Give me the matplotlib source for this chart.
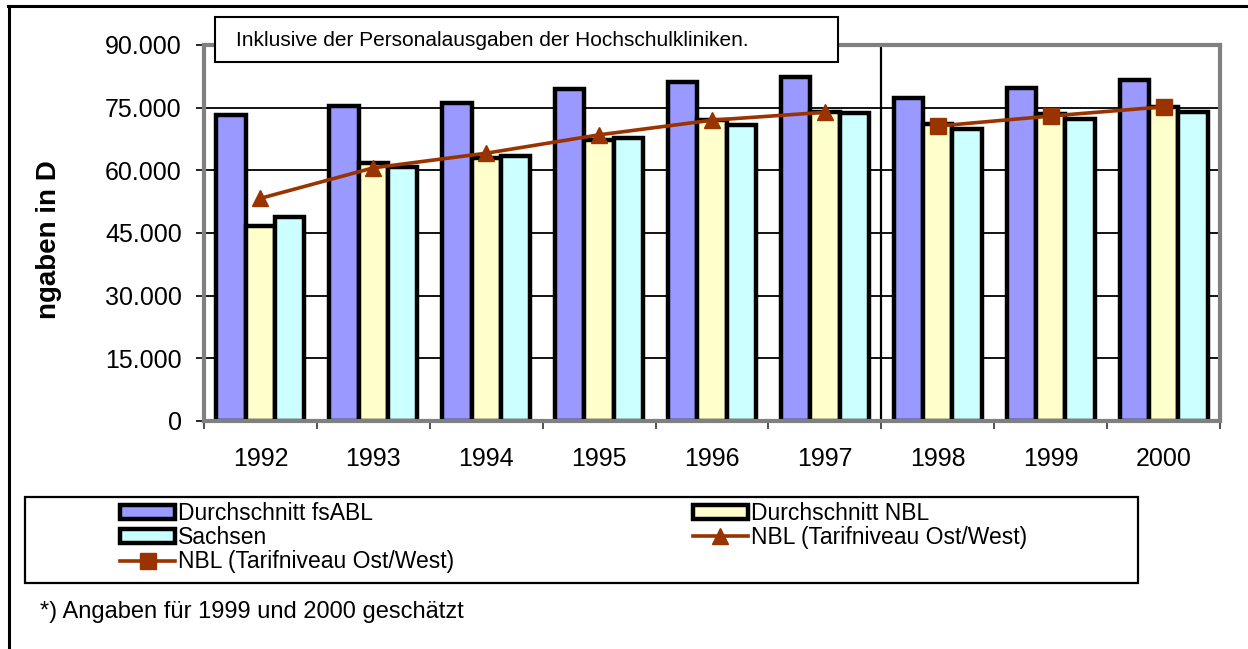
import numpy as np
import matplotlib
matplotlib.use("Agg")
from matplotlib import pyplot as plt
from matplotlib.patches import Rectangle
from matplotlib.lines import Line2D

plt.rcParams['font.family'] = ['Liberation Sans', 'DejaVu Sans']

years = ["1992", "1993", "1994", "1995", "1996", "1997", "1998", "1999", "2000"]
fsabl = [73200, 75400, 76200, 79500, 81100, 82300, 77400, 79700, 81600]
nbl = [46700, 61800, 62900, 67300, 72000, 74000, 71100, 73500, 75200]
sachsen = [48800, 60800, 63400, 67700, 70800, 73700, 69900, 72300, 74000]
nbl_tarif_tri = [53300, 60600, 64100, 68500, 72000, 73900, np.nan, np.nan, np.nan]
nbl_tarif_sq = [np.nan, np.nan, np.nan, np.nan, np.nan, np.nan, 70600, 73000, 75200]

labels = ["Durchschnitt fsABL", "Durchschnitt NBL", "Sachsen",
          "NBL (Tarifniveau Ost/West)", "NBL (Tarifniveau Ost/West)"]
note = "Inklusive der Personalausgaben der Hochschulkliniken."
footnote = "*) Angaben für 1999 und 2000 geschätzt"

W, H = 1248, 649
fig = plt.figure(figsize=(W / 100, H / 100), dpi=100)


def fx(px):
    return px / W


def fy(py):
    return 1 - py / H


ax = fig.add_axes([fx(204), fy(421), fx(1220) - fx(204), fy(45) - fy(421)])

x = np.arange(len(years))
w = 0.26
b1 = ax.bar(x - w, fsabl, w, color="#9999FF", edgecolor="black", linewidth=3.2, zorder=3)
b2 = ax.bar(x, nbl, w, color="#FFFFCC", edgecolor="black", linewidth=3.2, zorder=3)
b3 = ax.bar(x + w, sachsen, w, color="#CCFFFF", edgecolor="black", linewidth=3.2, zorder=3)
l1, = ax.plot(x, nbl_tarif_tri, color="#993300", linewidth=2.6, marker="^",
              markersize=11, zorder=4)
l2, = ax.plot(x, nbl_tarif_sq, color="#993300", linewidth=2.6, marker="s",
              markersize=11, zorder=4)

ax.set_xlim(-0.5, len(years) - 0.5)
ax.set_ylim(0, 90000)
ax.set_yticks(np.arange(0, 90001, 15000))
ax.set_yticklabels(["0"] + ["{:,}".format(v).replace(",", ".") for v in range(15000, 90001, 15000)])
ax.yaxis.grid(True, color="black", linewidth=1.3, zorder=0)
ax.set_axisbelow(True)
ax.axvline(5.5, color="black", linewidth=1.6, zorder=2)

ax.set_xticks(np.arange(-0.5, len(years), 1))
ax.set_xticklabels([])
ax.set_xticks(x, minor=True)
ax.set_xticklabels(years, minor=True)
ax.tick_params(axis="x", which="major", length=6, width=1.2, color="#333333")
ax.tick_params(axis="x", which="minor", length=0, pad=19, labelsize=18)
ax.tick_params(axis="y", length=6, width=1.2, pad=10, labelsize=18)
for s in ax.spines.values():
    s.set_color("#808080")
    s.set_linewidth(3)
    s.set_zorder(5)

fig.text(fx(49), fy(240), "ngaben in D", rotation=90, fontsize=20,
         fontweight="bold", ha="center", va="center")

# note box over the plot
fig.patches.append(Rectangle((fx(215), fy(62)), fx(838) - fx(215), fy(17) - fy(62),
                             transform=fig.transFigure, facecolor="white",
                             edgecolor="black", linewidth=1.5, zorder=10))
fig.text(fx(236), fy(40), note, fontsize=15, va="center", ha="left", zorder=11)

# legend
fig.patches.append(Rectangle((fx(25), fy(583)), fx(1138) - fx(25), fy(497) - fy(583),
                             transform=fig.transFigure, facecolor="white",
                             edgecolor="black", linewidth=1.6, zorder=1))
handles = [b1, b3, l2, b2, l1]
hlabels = [labels[0], labels[2], labels[4], labels[1], labels[3]]
fig.legend(handles, hlabels, ncol=2, loc="upper left",
           bbox_to_anchor=(fx(120), fy(502)), frameon=False, fontsize=16.5,
           borderpad=0, borderaxespad=0, labelspacing=0.05, handlelength=2.4,
           handleheight=0.6, handletextpad=0.15, columnspacing=10.4)

fig.text(fx(40), fy(612), footnote, fontsize=17, va="center", ha="left")

# outer frame lines (top and left)
fig.lines.append(Line2D([fx(8), 1], [fy(6), fy(6)], transform=fig.transFigure,
                        color="black", linewidth=2.2))
fig.lines.append(Line2D([fx(9), fx(9)], [0, fy(6)], transform=fig.transFigure,
                        color="black", linewidth=2.2))

fig.savefig("out.png", dpi=100)
